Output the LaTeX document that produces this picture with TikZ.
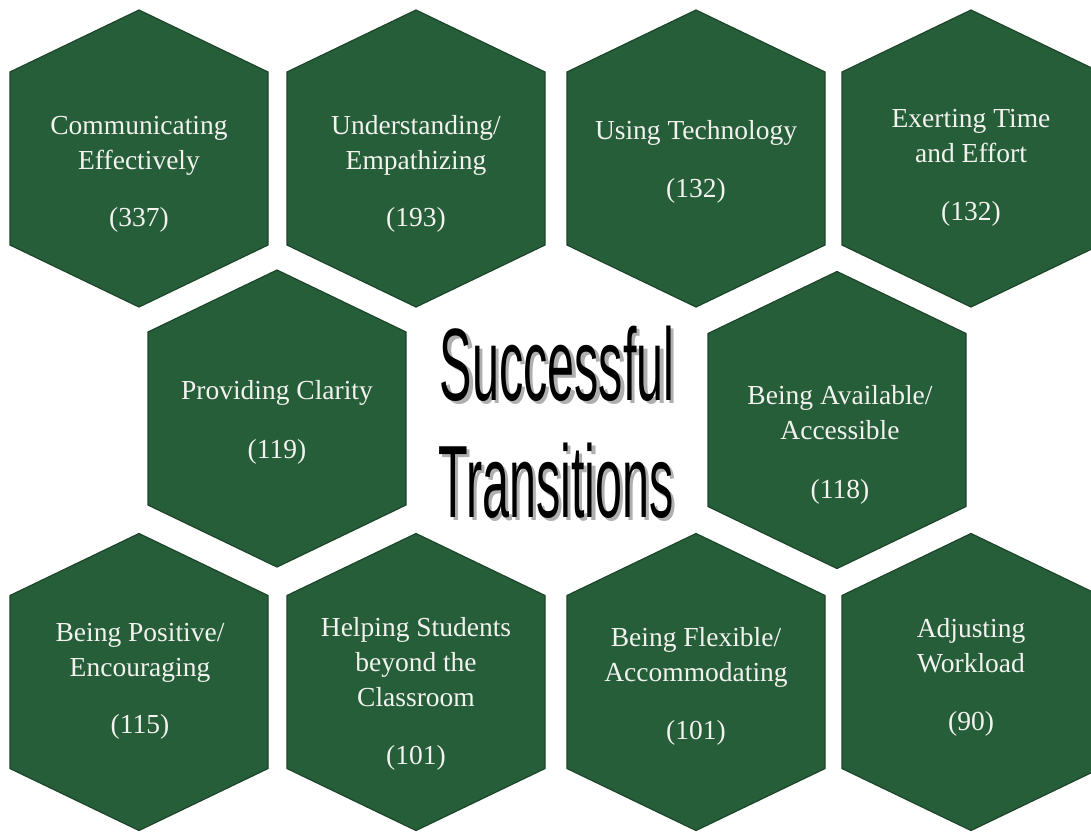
\documentclass[tikz,border=0pt]{standalone}
\usepackage{fontspec}
\setmainfont{Liberation Serif}
\newfontfamily\titlefont{Liberation Sans}
\definecolor{hexfill}{RGB}{39,94,58}
\definecolor{hexline}{RGB}{28,70,42}
\definecolor{hextext}{RGB}{242,242,238}
\definecolor{shadowgray}{RGB}{175,175,175}
\tikzset{
  hexshape/.style={fill=hexfill, draw=hexline, line width=1.2pt, line join=miter},
  hexlabel/.style={text=hextext, align=center, font=\fontsize{27.5}{35}\selectfont, inner sep=0pt},
  titletext/.style={anchor=base, inner sep=0pt, text=black}
}
\newcommand{\hexat}[3]{%
  \draw[hexshape] (#1,#2-148.5) -- (#1+129,#2-86.5) -- (#1+129,#2+86.5) -- (#1,#2+148.5) -- (#1-129,#2+86.5) -- (#1-129,#2-86.5) -- cycle;
  \coordinate (#3) at (#1,#2);}
\newcommand{\ttl}[1]{\scalebox{1}[2.12]{\titlefont\fontsize{48.5}{48.5}\selectfont #1}}
\newcommand{\shadowed}[1]{\makebox[0pt][l]{\hspace{3.5pt}\raisebox{-3.5pt}{\color{shadowgray}\ttl{#1}}}\ttl{#1}}
\begin{document}
\begin{tikzpicture}[x=1pt,y=-1pt]
\useasboundingbox[fill=white] (0,0) rectangle (1091,831);
% row 1
\hexat{139}{158.5}{h1}
\hexat{416}{158.5}{h2}
\hexat{696}{158.5}{h3}
\hexat{971}{158.5}{h4}
% row 2
\hexat{277}{418.5}{h5}
\hexat{837}{420}{h7}
% row 3
\hexat{139}{682}{h8}
\hexat{416}{682}{h9}
\hexat{696}{682}{h10}
\hexat{971}{682}{h11}
% labels
\node[hexlabel] (t1) at (139,173) {\strut Communicating\\\strut Effectively\\[22pt]\strut (337)};
\node[hexlabel] (t2) at (416,173) {\strut Understanding/\\\strut Empathizing\\[22pt]\strut (193)};
\node[hexlabel] (t3) at (696,161) {\strut Using Technology\\[23pt]\strut (132)};
\node[hexlabel] (t4) at (971,166.5) {\strut Exerting Time\\\strut and Effort\\[23pt]\strut (132)};
\node[hexlabel] (t5) at (277,421.5) {\strut Providing Clarity\\[24pt]\strut (119)};
\node[hexlabel] (t7) at (840,444.5) {\strut Being Available/\\\strut Accessible\\[24pt]\strut (118)};
\node[hexlabel] (t8) at (140,680) {\strut Being Positive/\\\strut Encouraging\\[22pt]\strut (115)};
\node[hexlabel] (t9) at (416,693) {\strut Helping Students\\\strut beyond the\\\strut Classroom\\[23pt]\strut (101)};
\node[hexlabel] (t10) at (696,686) {\strut Being Flexible/\\\strut Accommodating\\[23pt]\strut (101)};
\node[hexlabel] (t11) at (971,676.5) {\strut Adjusting\\\strut Workload\\[23pt]\strut (90)};
% title
\node[titletext] (s1) at (557,400) {\shadowed{Successful}};
\node[titletext] (s2) at (556,517) {\shadowed{Transitions}};
\end{tikzpicture}
\end{document}
